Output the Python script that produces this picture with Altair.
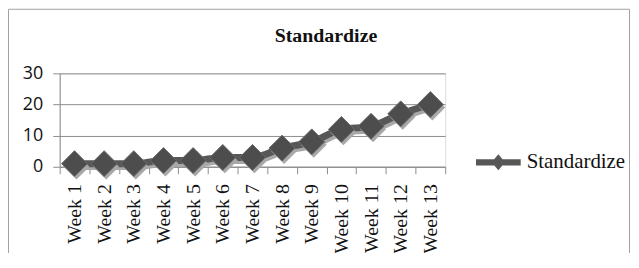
import altair as alt
import pandas as pd

weeks = ["Week 1", "Week 2", "Week 3", "Week 4", "Week 5", "Week 6", "Week 7",
         "Week 8", "Week 9", "Week 10", "Week 11", "Week 12", "Week 13"]
values = [1, 1, 1, 2, 2, 3, 3, 6, 8, 12, 13, 17, 20]
series = "Standardize"
title_text = "Standardize"

df = pd.DataFrame({"week": weeks, "value": values, "series": [series] * len(weeks)})

SERIF = "Liberation Serif"
SANS = "Open Sans"
W, H = 388, 94

x = alt.X("week:N", sort=weeks, title=None,
          scale=alt.Scale(paddingInner=0, paddingOuter=0),
          axis=alt.Axis(labelAngle=-90, labelFont=SERIF, labelFontSize=20,
                        labelColor="#111", labelPadding=10, tickBand="extent", tickSize=7,
                        domainColor="#8c8c8c", tickColor="#8c8c8c", grid=False,
                        labelBaseline="middle"))
y = alt.Y("value:Q", title=None,
          scale=alt.Scale(domain=[0, 30], nice=False),
          axis=alt.Axis(values=[0, 10, 20, 30], labelFont=SANS, labelFontSize=18,
                        labelColor="#111", labelPadding=10, tickSize=7,
                        domainColor="#8c8c8c", tickColor="#8c8c8c",
                        gridColor="#8c8c8c", grid=True))

base = alt.Chart(df)

line_shadow = base.mark_line(strokeWidth=7, color="#a8a8a8", interpolate="monotone",
                             xOffset=2, yOffset=3).encode(x=x, y=y)
line = base.mark_line(strokeWidth=7, interpolate="monotone").encode(
    x=x, y=y,
    color=alt.Color("series:N", scale=alt.Scale(range=["#575757"]),
                    legend=alt.Legend(title=None, orient="none", legendX=419, legendY=67,
                                      symbolType="M-1,-0.14H1V0.14H-1Z M0,-0.36L0.3,0L0,0.36L-0.3,0Z",
                                      symbolSize=2025, symbolFillColor="#575757",
                                      symbolStrokeWidth=0, labelFont=SERIF,
                                      labelFontSize=21, labelColor="#111", labelOffset=6,
                                      padding=0)))
pt_shadow = base.mark_point(shape="diamond", filled=True, size=680, color="#a8a8a8",
                            opacity=1, xOffset=2, yOffset=3).encode(x=x, y=y)
pts = base.mark_point(shape="diamond", filled=True, size=680, color="#4d4d4d",
                      opacity=1, stroke="#6a6a6a", strokeWidth=1).encode(x=x, y=y)

frame = alt.Chart(pd.DataFrame({"f": [0]})).mark_rect(
    fill=None, stroke="#a0a0a0", strokeWidth=1).encode(
    x=alt.value(-51.5), x2=alt.value(573.5), y=alt.value(-64.5), y2=alt.value(300))

title = alt.Chart(pd.DataFrame({"t": [title_text]})).mark_text(
    font=SERIF, fontSize=20, fontWeight="bold", color="#111",
    align="center", baseline="alphabetic").encode(
    text="t:N", x=alt.value(268), y=alt.value(-32))

chart = alt.layer(frame, title, line_shadow, line, pt_shadow, pts).properties(
    width=W, height=H,
    autosize=alt.AutoSizeParams(type="none"),
    padding={"left": 52, "top": 65, "right": 187, "bottom": 86},
).configure_view(stroke=None).configure(background="white")

chart.save("out.html", embed_options={"renderer": "svg", "actions": False})
